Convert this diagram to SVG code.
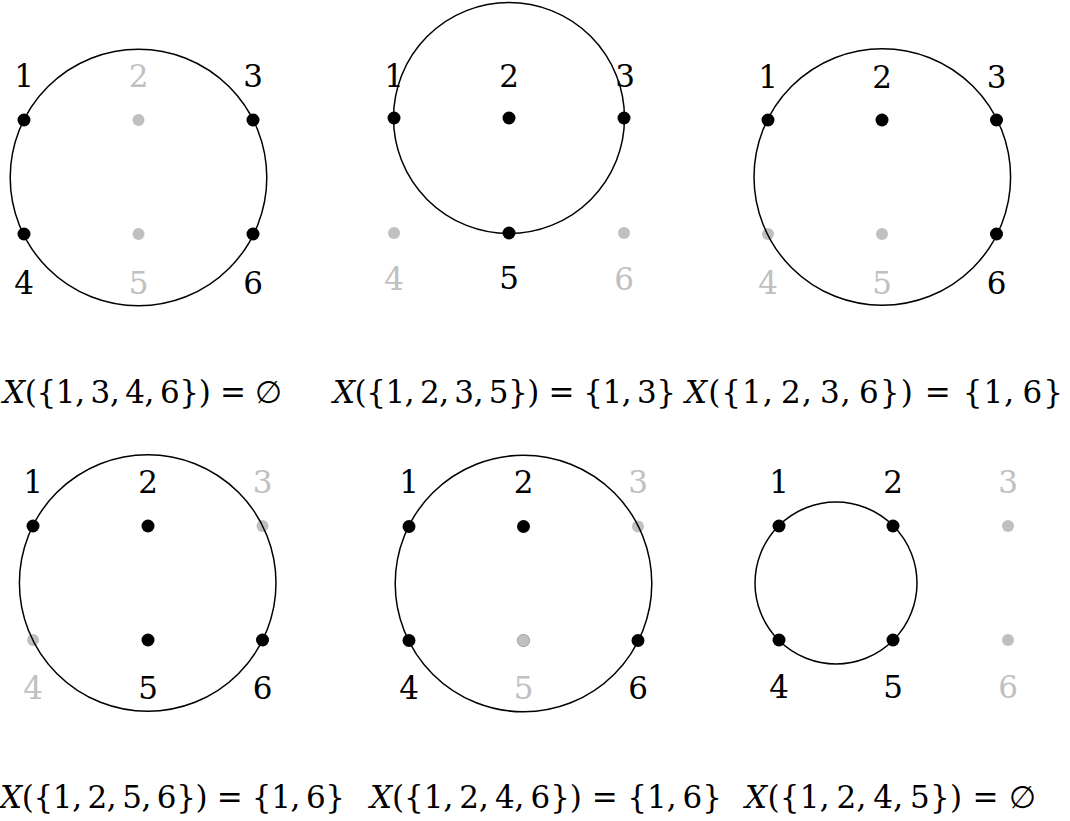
<svg xmlns="http://www.w3.org/2000/svg" width="1070" height="821" viewBox="0 0 1070 821">
<style>
.c{fill:none;stroke:#000;stroke-width:1.5}
.b{fill:#000}
.g{fill:#c0c0c0}
.gg{fill:#c0c0c0;stroke:#999;stroke-width:0.8}
.t{font-family:'DejaVu Serif','Liberation Serif','Noto Serif',serif;font-size:31px;text-anchor:middle}
.lb{fill:#000}
.lg{fill:#c0c0c0}
.f{text-anchor:start;fill:#000}
.i{font-style:italic}
</style>
<rect width="1070" height="821" fill="#fff"/>
<g id="panel1">
<circle class="g" cx="138.5" cy="120" r="6"/><circle class="g" cx="138.5" cy="234" r="6"/>
<circle class="c" cx="138.5" cy="177.5" r="128.3"/>
<circle class="b" cx="24" cy="120" r="6.5"/><circle class="b" cx="253" cy="120" r="6.5"/>
<circle class="b" cx="24" cy="234" r="6.5"/><circle class="b" cx="253" cy="234" r="6.5"/>
<text class="t lb" x="24" y="87">1</text><text class="t lg" x="138.5" y="87">2</text><text class="t lb" x="253" y="87">3</text>
<text class="t lb" x="24" y="294">4</text><text class="t lg" x="138.5" y="294">5</text><text class="t lb" x="253" y="294">6</text>
<text class="t f" x="3" y="403" textLength="279" lengthAdjust="spacing"><tspan class="i">X</tspan>({1,&#8201;3,&#8201;4,&#8201;6}) = ∅</text>
</g>
<g id="panel2">
<circle class="g" cx="394" cy="233" r="6"/><circle class="g" cx="624" cy="233" r="6"/>
<circle class="c" cx="509" cy="118" r="115.5"/>
<circle class="b" cx="394" cy="118" r="6.5"/><circle class="b" cx="509" cy="118" r="6.5"/>
<circle class="b" cx="624" cy="118" r="6.5"/><circle class="b" cx="509" cy="233" r="6.5"/>
<text class="t lb" x="394" y="87">1</text><text class="t lb" x="509" y="87">2</text><text class="t lb" x="625" y="87">3</text>
<text class="t lg" x="394" y="290">4</text><text class="t lb" x="509" y="289">5</text><text class="t lg" x="624" y="290">6</text>
<text class="t f" x="333" y="403" textLength="343" lengthAdjust="spacing"><tspan class="i">X</tspan>({1,&#8201;2,&#8201;3,&#8201;5}) = {1,&#8201;3}</text>
</g>
<g id="panel3">
<circle class="g" cx="768" cy="234" r="6"/><circle class="g" cx="882" cy="234" r="6"/>
<circle class="c" cx="882.3" cy="177" r="128.3"/>
<circle class="b" cx="768" cy="120" r="6.5"/><circle class="b" cx="882" cy="120" r="6.5"/>
<circle class="b" cx="996.5" cy="120" r="6.5"/><circle class="b" cx="996.5" cy="234" r="6.5"/>
<text class="t lb" x="768" y="88">1</text><text class="t lb" x="882" y="88">2</text><text class="t lb" x="996.5" y="88">3</text>
<text class="t lg" x="768" y="294">4</text><text class="t lg" x="882" y="294">5</text><text class="t lb" x="996.5" y="294">6</text>
<text class="t f" x="685" y="403" textLength="378" lengthAdjust="spacing"><tspan class="i">X</tspan>({1,&#8201;2,&#8201;3,&#8201;6}) = {1,&#8201;6}</text>
</g>
<g id="panel4">
<circle class="g" cx="262.5" cy="526" r="6"/><circle class="g" cx="33" cy="640" r="6"/>
<circle class="c" cx="147.7" cy="583" r="128.3"/>
<circle class="b" cx="33" cy="526" r="6.5"/><circle class="b" cx="148" cy="526" r="6.5"/>
<circle class="b" cx="148" cy="640" r="6.5"/><circle class="b" cx="262.5" cy="640" r="6.5"/>
<text class="t lb" x="33" y="493">1</text><text class="t lb" x="148" y="493">2</text><text class="t lg" x="262.5" y="493">3</text>
<text class="t lg" x="33" y="699">4</text><text class="t lb" x="148" y="699">5</text><text class="t lb" x="262.5" y="699">6</text>
<text class="t f" x="0" y="808" textLength="345" lengthAdjust="spacing"><tspan class="i">X</tspan>({1,&#8201;2,&#8201;5,&#8201;6}) = {1,&#8201;6}</text>
</g>
<g id="panel5">
<circle class="g" cx="638" cy="526.5" r="6"/>
<circle class="c" cx="523.5" cy="583.5" r="128.3"/>
<circle class="b" cx="409" cy="526.5" r="6.5"/><circle class="b" cx="523.5" cy="526.5" r="6.5"/>
<circle class="b" cx="409" cy="640.5" r="6.5"/><circle class="b" cx="638" cy="640.5" r="6.5"/>
<circle class="gg" cx="523.5" cy="640.5" r="6.2"/>
<text class="t lb" x="409" y="493">1</text><text class="t lb" x="523.5" y="493">2</text><text class="t lg" x="638" y="493">3</text>
<text class="t lb" x="409" y="699">4</text><text class="t lg" x="523.5" y="699">5</text><text class="t lb" x="638" y="699">6</text>
<text class="t f" x="370" y="808" textLength="352" lengthAdjust="spacing"><tspan class="i">X</tspan>({1,&#8201;2,&#8201;4,&#8201;6}) = {1,&#8201;6}</text>
</g>
<g id="panel6">
<circle class="g" cx="1008" cy="526" r="6"/><circle class="g" cx="1008" cy="640" r="6"/>
<circle class="c" cx="836" cy="583" r="81"/>
<circle class="b" cx="779" cy="526" r="6.5"/><circle class="b" cx="893" cy="526" r="6.5"/>
<circle class="b" cx="779" cy="640" r="6.5"/><circle class="b" cx="893" cy="640" r="6.5"/>
<text class="t lb" x="779" y="493">1</text><text class="t lb" x="893" y="493">2</text><text class="t lg" x="1008" y="493">3</text>
<text class="t lb" x="779" y="698">4</text><text class="t lb" x="893" y="698">5</text><text class="t lg" x="1008" y="698">6</text>
<text class="t f" x="745" y="808" textLength="291" lengthAdjust="spacing"><tspan class="i">X</tspan>({1,&#8201;2,&#8201;4,&#8201;5}) = ∅</text>
</g>
<g id="connectors"/>
</svg>
